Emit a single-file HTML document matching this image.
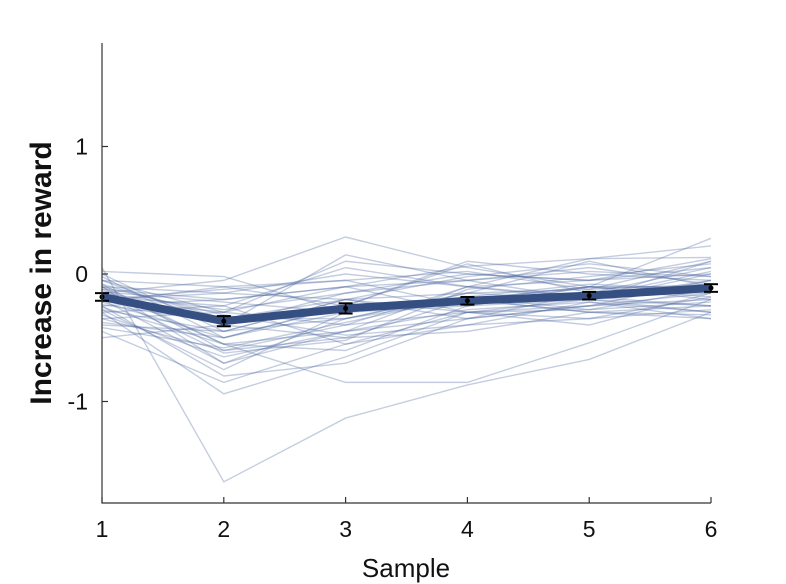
<!DOCTYPE html>
<html><head><meta charset="utf-8"><style>
body{margin:0;background:#fff;width:786px;height:584px;overflow:hidden}
svg{display:block;font-family:"Liberation Sans",Arial,sans-serif}
</style></head><body>
<svg id="chart" width="786" height="584" viewBox="0 0 786 584"></svg>
<script>
const samples=[1,2,3,4,5,6];
const xTicks=[1,2,3,4,5,6];
const yTicks=[1,0,-1];
const yTickLabels=["1","0","-1"];
const meanValues=[-0.18,-0.37,-0.27,-0.21,-0.17,-0.11];
const errValues=[0.03,0.04,0.04,0.03,0.03,0.03];
const subjects=[
[0.05,-1.63,-1.13,-0.87,-0.67,-0.30],
[-0.10,-0.55,-0.85,-0.85,-0.54,-0.20],
[-0.15,-0.05,0.29,0.05,-0.10,0.28],
[-0.20,-0.70,-0.45,-0.10,0.12,0.22],
[-0.30,-0.94,-0.65,-0.30,-0.20,0.10],
[-0.05,-0.30,0.10,0.00,-0.05,0.05],
[-0.25,-0.80,-0.70,-0.35,-0.15,-0.10],
[-0.12,-0.20,-0.10,0.06,0.12,0.13],
[-0.35,-0.60,-0.50,-0.45,-0.30,-0.35],
[-0.08,-0.35,-0.20,-0.30,-0.25,-0.05],
[0.02,-0.02,-0.30,-0.20,-0.10,-0.20],
[-0.40,-0.45,-0.35,-0.15,-0.20,-0.30],
[-0.18,-0.25,-0.55,-0.30,-0.40,-0.15],
[-0.22,-0.50,-0.25,0.10,0.00,-0.05],
[-0.10,-0.15,0.00,-0.10,-0.20,0.00],
[-0.28,-0.75,-0.30,-0.20,-0.30,-0.25],
[-0.15,-0.40,-0.15,-0.05,0.05,-0.08],
[-0.05,-0.10,-0.05,-0.25,-0.10,-0.12],
[-0.32,-0.65,-0.45,-0.35,-0.25,-0.20],
[-0.20,-0.30,-0.40,-0.10,-0.18,0.02],
[-0.12,-0.55,-0.60,-0.25,-0.10,-0.18],
[-0.25,-0.20,-0.10,-0.05,-0.20,-0.25],
[0.00,-0.45,-0.20,-0.15,0.10,-0.10],
[-0.45,-0.85,-0.55,-0.40,-0.35,-0.28],
[-0.18,-0.35,-0.35,-0.20,-0.15,-0.15],
[-0.30,-0.25,0.05,-0.10,-0.05,0.00],
[-0.08,-0.60,-0.40,-0.30,-0.28,-0.22],
[-0.22,-0.10,-0.25,-0.20,-0.10,-0.10],
[-0.38,-0.50,-0.30,-0.25,-0.20,-0.05],
[-0.15,-0.28,-0.15,0.00,-0.05,0.12],
[-0.50,-0.40,-0.50,-0.20,-0.30,-0.32],
[-0.10,-0.70,-0.35,-0.15,-0.12,-0.08],
[-0.20,-0.15,-0.20,-0.35,-0.25,-0.15],
[-0.05,-0.40,0.15,-0.05,0.02,-0.02],
[-0.26,-0.55,-0.45,-0.28,-0.22,-0.30],
[-0.14,-0.22,-0.30,-0.18,-0.08,-0.12],
[-0.35,-0.30,-0.10,-0.30,-0.35,-0.18],
[-0.02,-0.50,-0.25,0.08,-0.15,0.05],
[-0.24,-0.38,-0.28,-0.22,-0.18,-0.25],
[-0.16,-0.62,-0.52,-0.12,-0.02,0.08],
[-0.28,-0.45,-0.20,-0.02,0.08,-0.02],
[-0.10,-0.32,-0.48,-0.40,-0.22,-0.35],
[-0.42,-0.58,-0.38,-0.18,-0.28,-0.12],
[-0.20,-0.12,-0.05,0.02,-0.12,0.10]
];
const svg=document.getElementById('chart');
const NS='http://www.w3.org/2000/svg';
const X=v=>102+(v-1)*(711-102)/5;
const Y=v=>274-v*127.5;
function mk(tag,attrs){const e=document.createElementNS(NS,tag);for(const k in attrs)e.setAttribute(k,attrs[k]);svg.appendChild(e);return e;}
subjects.forEach((s,i)=>{
 const p=mk('polyline',{points:s.map((v,j)=>X(samples[j])+','+Y(v)).join(' '),fill:'none',stroke:'rgba(70,100,160,0.32)','stroke-width':1.4});
 
 
});
const m=mk('polyline',{points:meanValues.map((v,j)=>X(samples[j])+','+Y(v)).join(' '),fill:'none',stroke:'#354f82','stroke-width':8,'stroke-linejoin':'round'});


meanValues.forEach((v,j)=>{
 const x=X(samples[j]),t=Y(v+errValues[j]),b=Y(v-errValues[j]);
 const g=document.createElementNS(NS,'g');svg.appendChild(g);
 
 
 g.innerHTML=`<line x1="${x}" x2="${x}" y1="${t}" y2="${b}" stroke="#000" stroke-width="1.5"/><line x1="${x-7}" x2="${x+7}" y1="${t}" y2="${t}" stroke="#000" stroke-width="2"/><line x1="${x-7}" x2="${x+7}" y1="${b}" y2="${b}" stroke="#000" stroke-width="2"/><circle cx="${x}" cy="${Y(v)}" r="2.5" fill="#000"/>`;
});
const ax=mk('path',{d:'M102,43 V503 H711',fill:'none',stroke:'#333','stroke-width':1.2});


xTicks.forEach(v=>{
 mk('line',{x1:X(v),x2:X(v),y1:503,y2:497,stroke:'#333','stroke-width':1.2});
 const t=mk('text',{x:X(v),y:537,'text-anchor':'middle','font-size':23,fill:'#111'});t.textContent=v;
 
 
});
yTicks.forEach((v,i)=>{
 mk('line',{x1:102,x2:108,y1:Y(v),y2:Y(v),stroke:'#333','stroke-width':1.2});
 const t=mk('text',{x:88,y:Y(v)+8,'text-anchor':'end','font-size':23,fill:'#111'});t.textContent=yTickLabels[i];
 
 
});
const xl=mk('text',{x:406,y:577,'text-anchor':'middle','font-size':26,fill:'#111'});xl.textContent='Sample';


const yl=mk('text',{x:0,y:0,transform:'translate(51,273) rotate(-90)','text-anchor':'middle','font-size':30,'font-weight':'bold',fill:'#111'});yl.textContent='Increase in reward';


</script>
</body></html>
